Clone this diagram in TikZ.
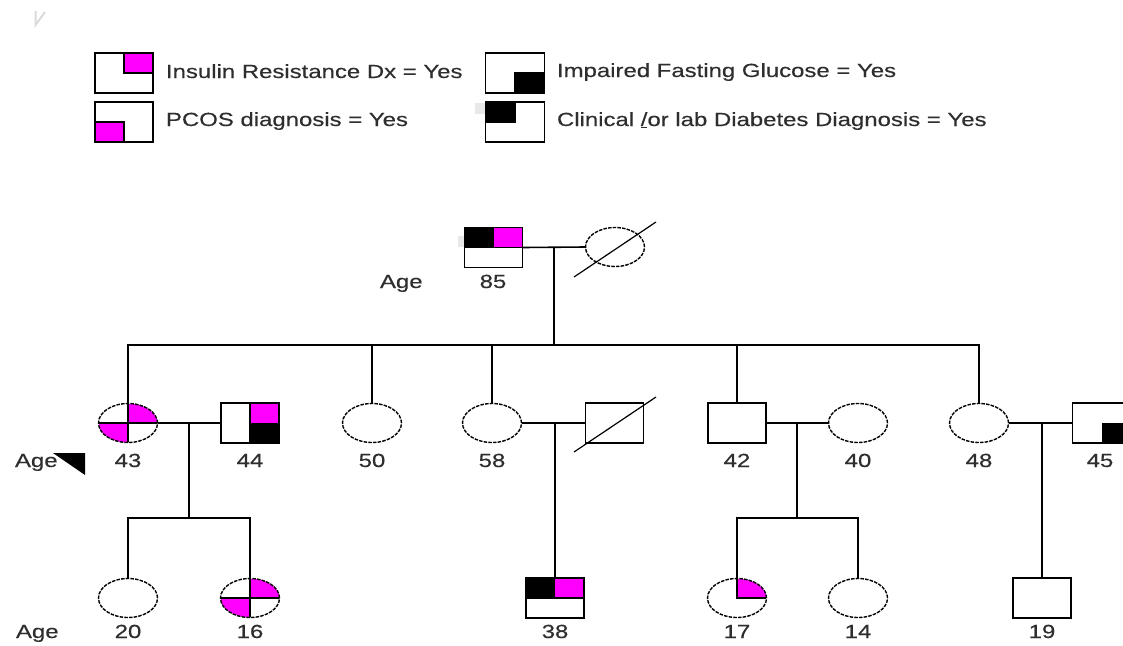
\documentclass[tikz,border=0pt]{standalone}
\usepackage{fontspec}
\setmainfont{Liberation Sans}[FakeStretch=1.26,FakeBold=0.4]
\usetikzlibrary{shapes.geometric,calc}
\definecolor{ir}{HTML}{FF00FF}
\definecolor{txt}{HTML}{2E2E2E}

\begin{document}
\begin{tikzpicture}[x=1pt,y=-1pt,
  every node/.style={inner sep=0pt,outer sep=0pt},
  male/.style={draw,rectangle,minimum width=58pt,minimum height=40pt,line width=1.6pt,fill=white},
  female/.style={draw,ellipse,minimum width=59pt,minimum height=39pt,line width=1.4pt,dash pattern=on 3.5pt off 1.2pt,fill=white},
  link/.style={line width=1.6pt},
  gone/.style={line width=1.2pt},
  lbl/.style={font=\fontsize{19}{22}\selectfont,text=txt,text height=14pt,text depth=4pt},
  inner/.style={solid,line width=1.6pt},
  % quadrant fills, clipped to the symbol outline
  halftop/.style={path picture={
    \fill[black] (path picture bounding box.center) rectangle (path picture bounding box.north west);
    \fill[ir] (path picture bounding box.center) rectangle (path picture bounding box.north east);
    \draw[inner] (path picture bounding box.west) -- (path picture bounding box.east);}},
  crossed/.style={path picture={
    \fill[ir] (path picture bounding box.center) rectangle (path picture bounding box.north east);
    \fill[ir] (path picture bounding box.center) rectangle (path picture bounding box.south west);
    \draw[inner] (path picture bounding box.west) -- (path picture bounding box.east)
                 (path picture bounding box.north) -- (path picture bounding box.south);}}
]
\useasboundingbox (0,0) rectangle (1123,645);
\clip (0,0) rectangle (1123,645);

% faint mark in the corner
\draw[gray!30,line width=2pt] (35.5,11) -- (35.5,25) -- (45,12);

% ---------- legend ----------
\node[male] (lg1) at (124,73) {};
\filldraw[fill=ir,line width=1.6pt] (lg1.center) rectangle (lg1.north east);
\node[male] (lg2) at (124,122) {};
\filldraw[fill=ir,line width=1.6pt] (lg2.center) rectangle (lg2.south west);
\fill[gray!18] (475,103) rectangle (486,114);
\fill[gray!14] (516,103) rectangle (527,115);
\node[male,minimum width=59pt] (lg3) at (515,73) {};
\filldraw[fill=black,line width=1.6pt] (lg3.center) rectangle (lg3.south east);
\node[male,minimum width=59pt] (lg4) at (515,122) {};
\filldraw[fill=black,line width=1.6pt] (lg4.center) rectangle (lg4.north west);

\node[lbl,anchor=west] (t1) at (166,73) {Insulin Resistance Dx = Yes};
\node[lbl,anchor=west] (t2) at (166,121) {PCOS diagnosis = Yes};
\node[lbl,anchor=west] (t3) at (557,72) {Impaired Fasting Glucose = Yes};
\node[lbl,anchor=west] (t4) at (557,121) {Clinical \underline{/}or lab Diabetes Diagnosis = Yes};

% ---------- generation I ----------
\fill[gray!18] (458,236) rectangle (465,247);
\node[male,halftop] (I1) at (493.5,247.5) {};
\node[female] (I2) at (615,247) {};
\draw[gone] ($(I2.center)+(-41,30)$) -- ($(I2.center)+(41,-25)$);
\node[lbl,anchor=west] (age1) at (380,283) {Age};
\node[lbl] (l85) at (493,283) {85};

% ---------- generation II ----------
\node[female,crossed] (A) at (128,423) {};
\node[male,path picture={
    \fill[ir] (path picture bounding box.center) rectangle (path picture bounding box.north east);
    \fill[black] (path picture bounding box.center) rectangle (path picture bounding box.south east);
    \draw[inner] (path picture bounding box.north) -- (path picture bounding box.south);}] (B) at (250,423) {};
\node[female] (C) at (372,423) {};
\node[female] (D) at (492,423) {};
\node[male] (E) at (614.5,423) {};
\draw[gone] ($(E.center)+(-40.5,29)$) -- ($(E.center)+(41.5,-26)$);
\node[male] (F) at (737,423) {};
\node[female] (G) at (858,423) {};
\node[female] (H) at (979,423) {};
\node[male,path picture={
    \fill[black] (path picture bounding box.center) rectangle (path picture bounding box.south east);}] (K) at (1101.5,423) {};

\node[lbl,anchor=west] (age2) at (15,462) {Age};
\fill[black] (53,453) -- (85,453) -- (85,475) -- cycle;
\node[lbl] (l43) at (128,462) {43};
\node[lbl] (l44) at (250,462) {44};
\node[lbl] (l50) at (372,462) {50};
\node[lbl] (l58) at (492,462) {58};
\node[lbl] (l42) at (737,462) {42};
\node[lbl] (l40) at (858,462) {40};
\node[lbl] (l48) at (979,462) {48};
\node[lbl] (l45) at (1100,462) {45};

% ---------- generation III ----------
\node[female] (L) at (128,598) {};
\node[female,crossed] (M) at (250,598) {};
\node[male,halftop] (N) at (555,598) {};
\node[female,path picture={
    \fill[ir] (path picture bounding box.center) rectangle (path picture bounding box.north east);
    \draw[inner] (path picture bounding box.north) -- (path picture bounding box.center) -- (path picture bounding box.east);}] (P) at (737,598) {};
\node[female] (Q) at (858,598) {};
\node[male] (R) at (1042,598) {};

\node[lbl,anchor=west] (age3) at (16,633) {Age};
\node[lbl] (l20) at (128,633) {20};
\node[lbl] (l16) at (250,633) {16};
\node[lbl] (l38) at (555,633) {38};
\node[lbl] (l17) at (737,633) {17};
\node[lbl] (l14) at (858,633) {14};
\node[lbl] (l19) at (1042,633) {19};

% ---------- unions and lines of descent ----------
\coordinate (m1) at ($(I1.east)!0.5!(I2.west)$);
\coordinate (s1) at ($(m1)+(0,98)$);
\draw[link] (I1.east) -- (I2.west);
\draw[link] (m1) -- (s1);
\draw[link] (A.north) -- (A.north |- s1) -- (H.north |- s1) -- (H.north);
\foreach \c in {C,D,F} \draw[link] (\c.north) -- (\c.north |- s1);

\coordinate (m2) at ($(A.east)!0.5!(B.west)$);
\coordinate (s2) at ($(m2)+(0,95)$);
\draw[link] (A.east) -- (B.west);
\draw[link] (m2) -- (s2);
\draw[link] (L.north) -- (L.north |- s2) -- (M.north |- s2) -- (M.north);

\coordinate (m3) at (N.north |- D.east);
\draw[link] (D.east) -- (E.west);
\draw[link] (m3) -- (N.north);

\coordinate (m4) at ($(F.east)!0.5!(G.west)$);
\coordinate (s4) at ($(m4)+(0,95)$);
\draw[link] (F.east) -- (G.west);
\draw[link] (m4) -- (s4);
\draw[link] (P.north) -- (P.north |- s4) -- (Q.north |- s4) -- (Q.north);

\coordinate (m5) at (R.north |- H.east);
\draw[link] (H.east) -- (K.west);
\draw[link] (m5) -- (R.north);
\end{tikzpicture}
\end{document}
